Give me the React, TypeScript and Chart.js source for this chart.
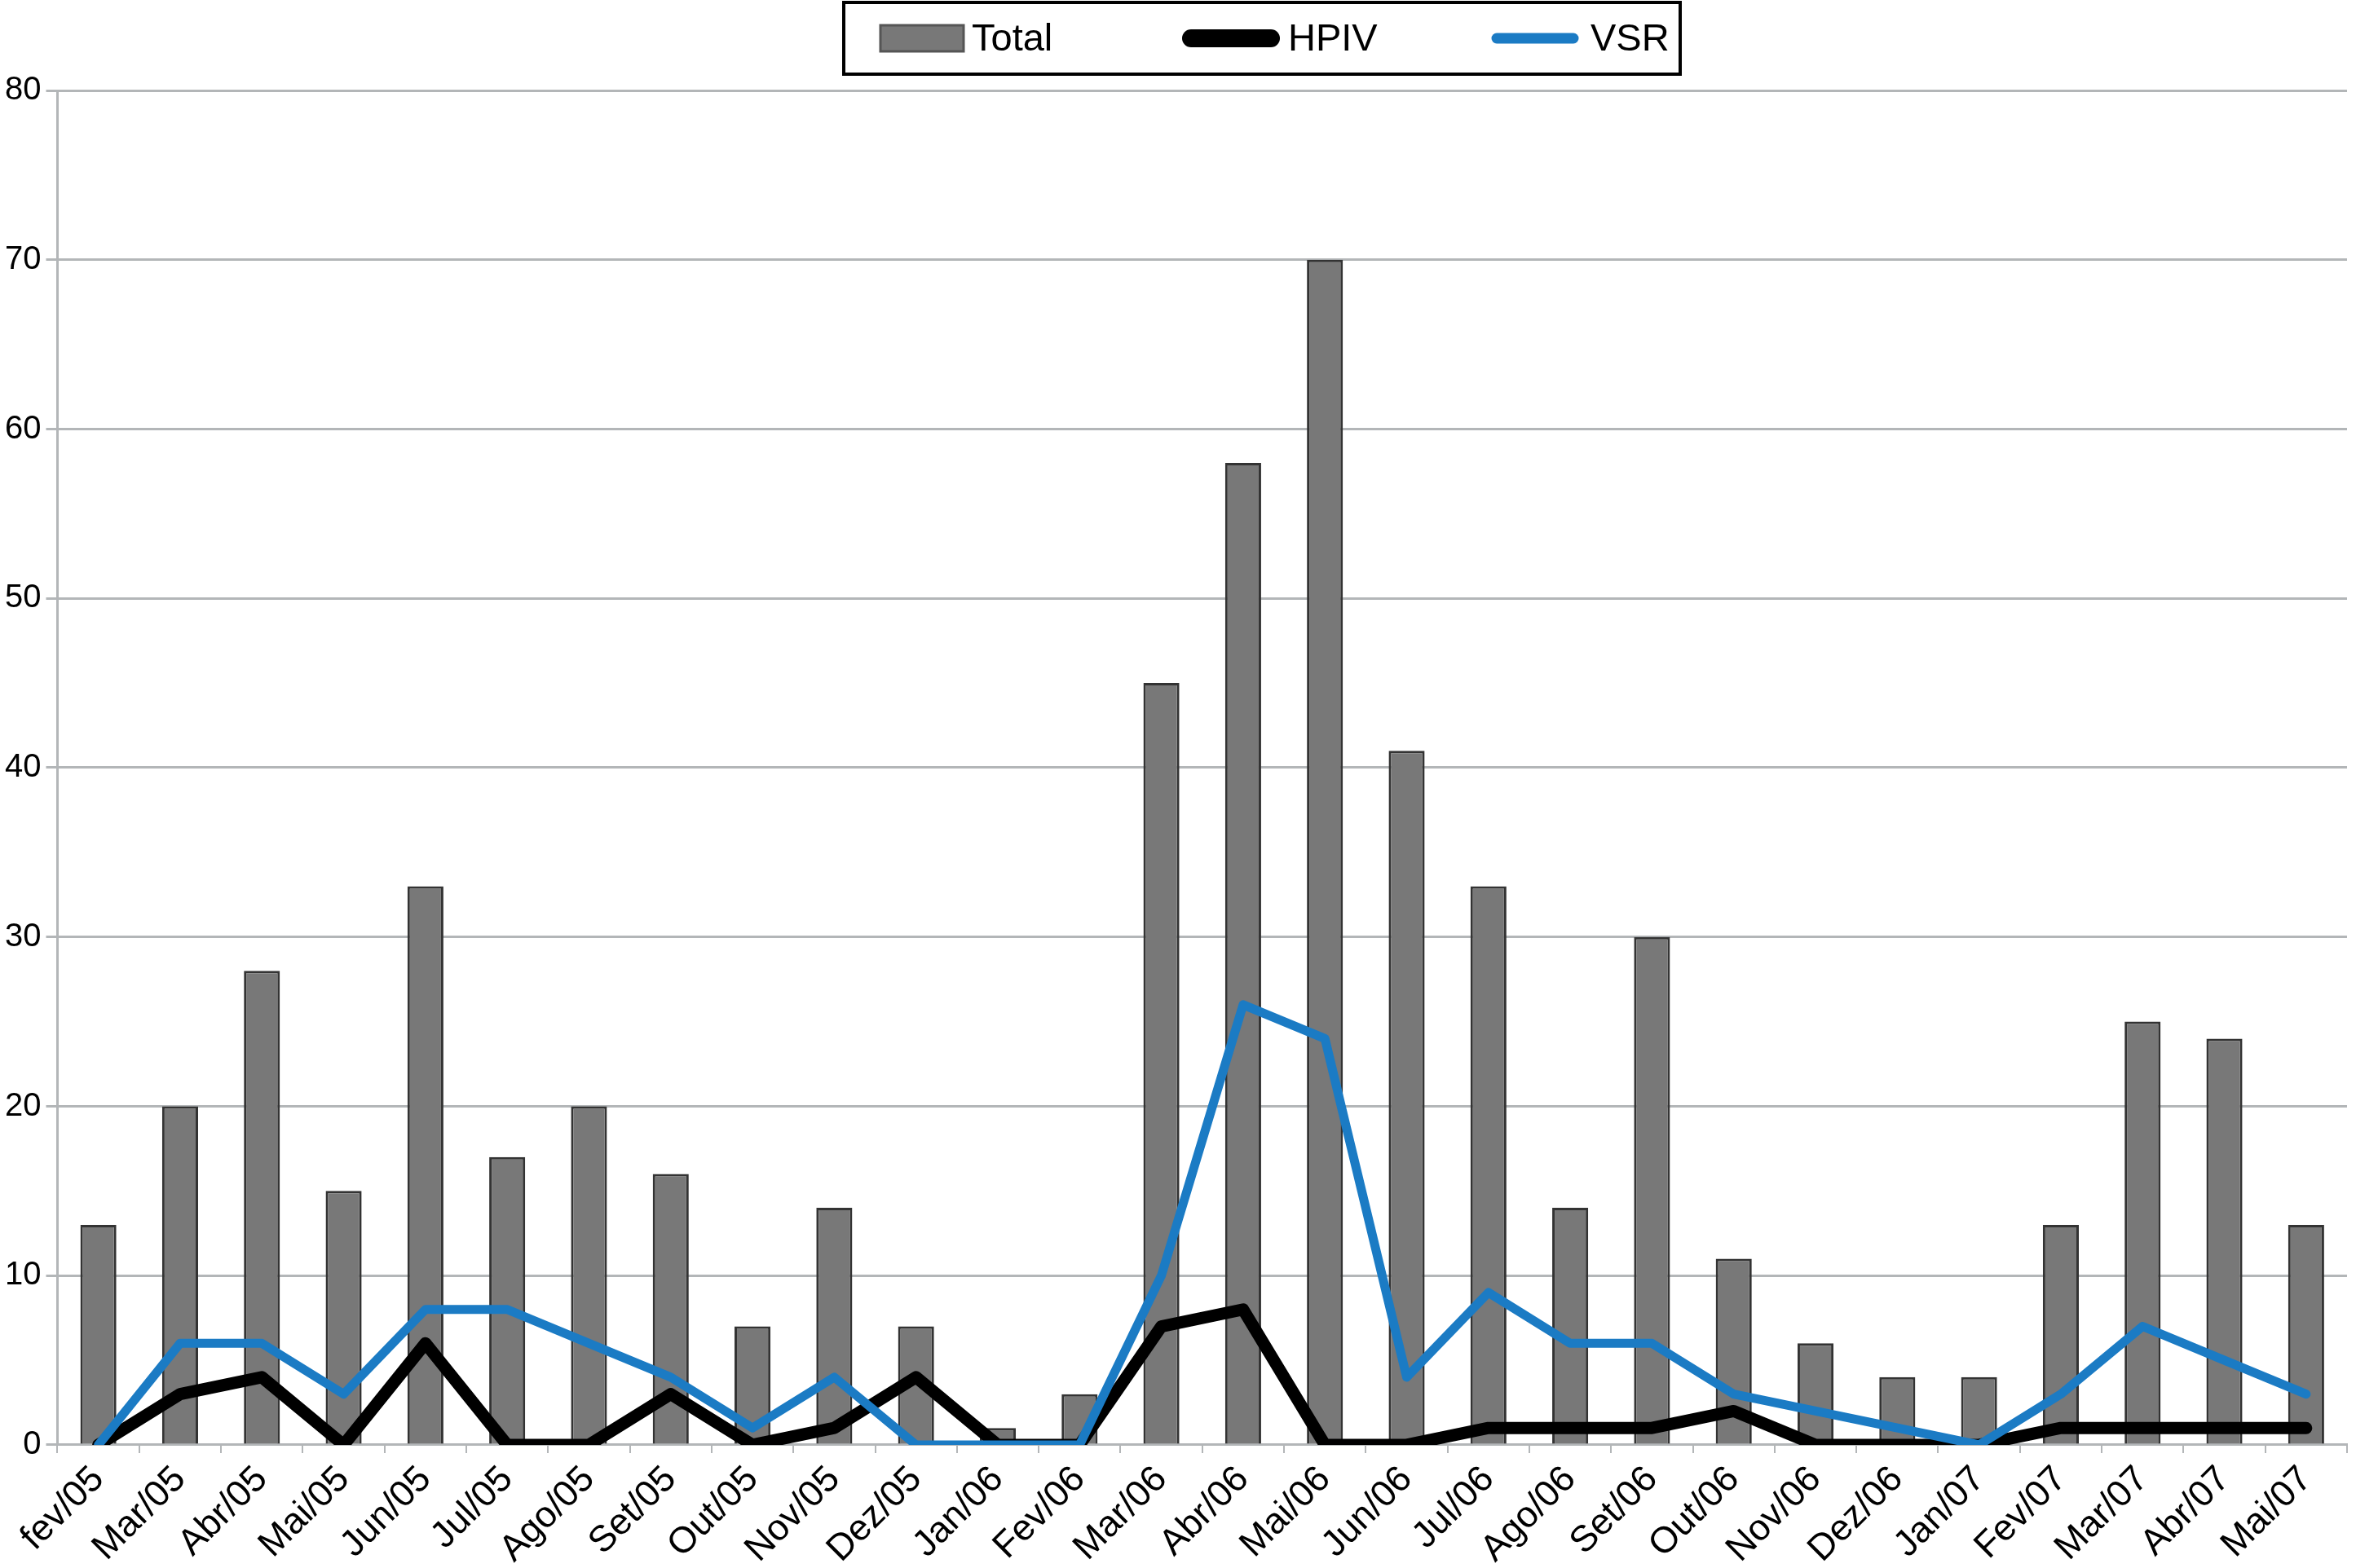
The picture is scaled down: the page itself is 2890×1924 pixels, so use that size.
// App.tsx
import React, { useRef, useEffect } from "react";
import { Chart, registerables } from "chart.js";

Chart.register(...registerables);

const months = [
  "fev/05", "Mar/05", "Abr/05", "Mai/05", "Jun/05", "Jul/05", "Ago/05", "Set/05",
  "Out/05", "Nov/05", "Dez/05", "Jan/06", "Fev/06", "Mar/06", "Abr/06", "Mai/06",
  "Jun/06", "Jul/06", "Ago/06", "Set/06", "Out/06", "Nov/06", "Dez/06", "Jan/07",
  "Fev/07", "Mar/07", "Abr/07", "Mai/07",
];
const seriesNames = ["Total", "HPIV", "VSR"];
const total = [13, 20, 28, 15, 33, 17, 20, 16, 7, 14, 7, 1, 3, 45, 58, 70, 41, 33, 14, 30, 11, 6, 4, 4, 13, 25, 24, 13];
const hpiv = [0, 3, 4, 0, 6, 0, 0, 3, 0, 1, 4, 0, 0, 7, 8, 0, 0, 1, 1, 1, 2, 0, 0, 0, 1, 1, 1, 1];
const vsr = [0, 6, 6, 3, 8, 8, 6, 4, 1, 4, 0, 0, 0, 10, 26, 24, 4, 9, 6, 6, 3, 2, 1, 0, 3, 7, 5, 3];
const yMax = 80;
const yStep = 10;

const FONT = "'Liberation Sans', Arial, Helvetica, sans-serif";
const BAR_FILL = "#787878";
const BAR_EDGE = "#333333";
const HPIV_COLOR = "#000000";
const VSR_COLOR = "#1b7bc4";
const GRID = "#b3b6b8";

// legend drawn in a box above the plot, like the original figure
const boxedLegend = {
  id: "boxedLegend",
  afterDraw(chart: Chart) {
    const ctx = chart.ctx;
    const ds = chart.data.datasets as any[];
    ctx.save();
    ctx.lineWidth = 4;
    ctx.strokeStyle = "#000";
    ctx.strokeRect(1035, 3, 1026, 88);

    const slots = [
      { x: 1080, w: 102 },
      { x: 1450, w: 120 },
      { x: 1825, w: 116 },
    ];
    const cy = 47;
    ds.forEach((d, i) => {
      const s = slots[i];
      if (d.type === "line") {
        ctx.beginPath();
        ctx.lineCap = "round";
        ctx.lineWidth = i === 1 ? 22 : 13;
        ctx.strokeStyle = d.borderColor;
        ctx.moveTo(s.x + 11, cy);
        ctx.lineTo(s.x + s.w - 11, cy);
        ctx.stroke();
      } else {
        ctx.fillStyle = d.backgroundColor;
        ctx.fillRect(s.x, cy - 16, s.w, 32);
        ctx.lineWidth = 3;
        ctx.strokeStyle = "#555";
        ctx.strokeRect(s.x, cy - 16, s.w, 32);
      }
      ctx.fillStyle = "#000";
      ctx.font = `47px ${FONT}`;
      ctx.textBaseline = "middle";
      ctx.textAlign = "left";
      ctx.fillText(d.label, s.x + s.w + 10, cy + 2);
    });
    ctx.restore();
  },
};

const App: React.FC = () => {
  const canvasRef = useRef<HTMLCanvasElement | null>(null);
  const chartRef = useRef<Chart | null>(null);

  useEffect(() => {
    if (!canvasRef.current) return;

    chartRef.current = new Chart(canvasRef.current, {
      type: "bar",
      data: {
        labels: months,
        datasets: [
          {
            type: "bar",
            label: seriesNames[0],
            data: total,
            backgroundColor: BAR_FILL,
            borderColor: BAR_EDGE,
            borderWidth: 3,
            barPercentage: 0.44,
            categoryPercentage: 1,
            order: 3,
          },
          {
            type: "line",
            label: seriesNames[1],
            data: hpiv,
            borderColor: HPIV_COLOR,
            backgroundColor: HPIV_COLOR,
            borderWidth: 15,
            pointRadius: 0,
            tension: 0,
            borderCapStyle: "round",
            borderJoinStyle: "round",
            order: 2,
          },
          {
            type: "line",
            label: seriesNames[2],
            data: vsr,
            borderColor: VSR_COLOR,
            backgroundColor: VSR_COLOR,
            borderWidth: 11,
            pointRadius: 0,
            tension: 0,
            borderCapStyle: "round",
            borderJoinStyle: "round",
            order: 1,
          },
        ] as any,
      },
      options: {
        animation: false,
        responsive: true,
        maintainAspectRatio: false,
        layout: { padding: { top: 111, right: 11, left: 0, bottom: -10 } },
        scales: {
          x: {
            offset: true,
            grid: {
              display: true,
              drawOnChartArea: false,
              offset: true,
              tickLength: 10,
              color: GRID,
              lineWidth: 2,
            },
            border: { display: true, color: GRID, width: 3 },
            ticks: {
              autoSkip: false,
              minRotation: 45,
              maxRotation: 45,
              padding: 6,
              color: "#000",
              font: { family: FONT, size: 45 },
            },
          },
          y: {
            min: 0,
            max: yMax,
            ticks: {
              stepSize: yStep,
              padding: 6,
              color: "#000",
              font: { family: FONT, size: 40 },
            },
            grid: { color: GRID, lineWidth: 3, tickLength: 14 },
            border: { display: true, color: GRID, width: 3 },
          },
        },
        plugins: { legend: { display: false }, tooltip: { enabled: false } },
      },
      plugins: [boxedLegend as any],
    });

    return () => chartRef.current?.destroy();
  }, []);

  return (
    <div style={{ position: "fixed", left: 0, top: 0, width: 2890, height: 1924, background: "#fff" }}>
      <canvas ref={canvasRef} style={{ width: "100%", height: "100%" }} />
    </div>
  );
};

export default App;
